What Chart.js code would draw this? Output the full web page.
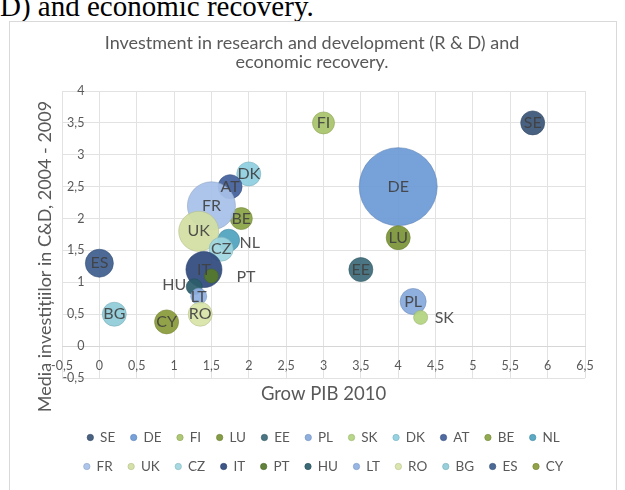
<!DOCTYPE html>
<html>
<head>
<meta charset="utf-8">
<script src="https://cdn.jsdelivr.net/npm/chart.js@4"></script>
<style>
html,body{margin:0;padding:0;background:#fff;width:625px;height:490px;overflow:hidden;}
#wrap{position:relative;width:625px;height:490px;}
#doc{position:absolute;left:0;top:-8px;font-family:"Liberation Serif","Times New Roman",serif;font-size:29px;line-height:28px;color:#000;white-space:nowrap;}
#frame{position:absolute;left:9px;top:21px;width:606px;height:480px;border:1px solid #d9d9d9;pointer-events:none;}
canvas{position:absolute;left:0;top:0;}
</style>
</head>
<body>
<div id="wrap">
<div id="doc">D) and economic recovery.</div>
<canvas id="c" width="625" height="490"></canvas>
<div id="frame"></div>
</div>
<script>
// ---- data ----
const countries = ['SE','DE','FI','LU','EE','PL','SK','DK','AT','BE','NL','FR','UK','CZ','IT','PT','HU','LT','RO','BG','ES','CY'];
const growPIB2010 = [5.8, 4.0, 3.0, 4.0, 3.5, 4.2, 4.3, 2.0, 1.75, 1.9, 1.73, 1.5, 1.33, 1.63, 1.4, 1.5, 1.27, 1.33, 1.35, 0.2, 0.0, 0.9];
const rdAverage0409 = [3.5, 2.5, 3.5, 1.7, 1.2, 0.7, 0.45, 2.7, 2.5, 2.0, 1.66, 2.2, 1.8, 1.52, 1.2, 1.1, 0.93, 0.78, 0.5, 0.5, 1.3, 0.38];
const bubbleSize = [12, 39, 11, 12, 12, 13, 7, 12, 12, 11, 11, 24, 20, 12, 18, 7, 8, 8, 12, 12, 14, 12];
const xTickLabels = ['-0,5','0','0,5','1','1,5','2','2,5','3','3,5','4','4,5','5','5,5','6','6,5'];
const yTickLabels = ['-0,5','0','0,5','1','1,5','2','2,5','3','3,5','4'];
const chartTitle = ['Investment in research and development (R & D) and', 'economic recovery.'];
const xAxisTitle = 'Grow PIB 2010';
const yAxisTitle = 'Media investițiilor in C&D, 2004 - 2009';

// ---- styles ----
const seriesColors = ['#3c5678','#6d9ad6','#a9c46a','#7b9437','#3d6b78','#86a9dd','#b3d480','#8fcfe0','#43609a','#8aa444','#4fa3bd',
                      '#a7c1e8','#d2dfa3','#9fd6df','#2f4a7e','#55782b','#2c5e6b','#90b0e2','#d8e3a8','#8fcbd8','#405f8f','#8a9b3a'];
const labelStyle = {
  NL: {align:'left', dx:11, dy:3},
  SK: {align:'left', dx:14, dy:0},
  PT: {align:'left', dx:25, dy:1},
  HU: {align:'right', dx:-8, dy:-2}
};
const textGray = '#595959';
const gridGray = '#e2e2e2';
const FONT = 'Lato';

function hexToRgba(hex, a) {
  const n = parseInt(hex.slice(1), 16);
  return 'rgba(' + ((n >> 16) & 255) + ',' + ((n >> 8) & 255) + ',' + (n & 255) + ',' + a + ')';
}
function darker(hex, f, a) {
  const n = parseInt(hex.slice(1), 16);
  const r = Math.round(((n >> 16) & 255) * f), g = Math.round(((n >> 8) & 255) * f), b = Math.round((n & 255) * f);
  return 'rgba(' + r + ',' + g + ',' + b + ',' + a + ')';
}

const datasets = countries.map((name, i) => ({
  label: name,
  data: [{x: growPIB2010[i], y: rdAverage0409[i], r: bubbleSize[i]}],
  backgroundColor: hexToRgba(seriesColors[i], 0.93),
  borderColor: darker(seriesColors[i], 0.85, 0.6),
  borderWidth: 1,
  xAxisID: 'x',
  yAxisID: 'y',
  order: countries.length - i
}));

const bubbleLabels = {
  id: 'bubbleLabels',
  afterDatasetsDraw(chart) {
    const ctx = chart.ctx;
    ctx.save();
    ctx.font = '16px ' + FONT;
    ctx.fillStyle = 'rgba(64,64,64,0.9)';
    ctx.textBaseline = 'middle';
    chart.data.datasets.forEach((ds, i) => {
      const el = chart.getDatasetMeta(i).data[0];
      if (!el) return;
      const st = labelStyle[ds.label];
      if (st) {
        ctx.textAlign = st.align;
        ctx.fillText(ds.label, el.x + st.dx, el.y + st.dy);
      } else {
        ctx.textAlign = 'center';
        ctx.fillText(ds.label, el.x, el.y);
      }
    });
    ctx.restore();
  }
};

const yTitlePlugin = {
  id: 'yTitlePlugin',
  afterDraw(chart) {
    const {ctx, chartArea} = chart;
    ctx.save();
    ctx.translate(chartArea.left - 17, (chartArea.top + chartArea.bottom) / 2 + 22);
    ctx.rotate(-Math.PI / 2);
    ctx.font = '18px ' + FONT;
    ctx.fillStyle = textGray;
    ctx.textAlign = 'center';
    ctx.textBaseline = 'middle';
    ctx.fillText(yAxisTitle, 0, 0);
    ctx.restore();
  }
};

new Chart(document.getElementById('c'), {
  type: 'bubble',
  data: {datasets},
  options: {
    responsive: false,
    animation: false,
    events: [],
    layout: {padding: {top: 0, left: 27, right: 28, bottom: 6.75}},
    plugins: {
      tooltip: {enabled: false},
      title: {
        display: true,
        text: chartTitle,
        color: textGray,
        font: {family: FONT, size: 18, weight: 'normal', lineHeight: 1.056},
        padding: {top: 33.5, bottom: 19.5}
      },
      legend: {
        position: 'bottom',
        fullSize: false,
        labels: {
          usePointStyle: true,
          pointStyle: 'circle',
          boxWidth: 6,
          boxHeight: 4.5,
          padding: 15.5,
          color: textGray,
          font: {family: FONT, size: 13.5},
          sort: (a, b) => a.datasetIndex - b.datasetIndex
        }
      }
    },
    scales: {
      x: {
        type: 'linear',
        position: {y: 0},
        min: -0.5, max: 6.5,
        grid: {color: gridGray, drawTicks: false},
        border: {color: '#d6d6d6'},
        ticks: {
          stepSize: 0.5, autoSkip: false, maxRotation: 0, padding: 12,
          color: textGray, font: {family: FONT, size: 12.5},
          callback: (v, i) => xTickLabels[i]
        }
      },
      y: {
        type: 'linear',
        position: {x: -0.2},
        min: -0.5, max: 4,
        grid: {color: gridGray, drawTicks: false},
        border: {display: false},
        ticks: {
          stepSize: 0.5, autoSkip: false,
          color: textGray, font: {family: FONT, size: 12.5},
          callback: (v, i) => yTickLabels[i]
        }
      },
      xTitle: {
        axis: 'x', type: 'linear', position: 'bottom', display: true,
        grid: {display: false}, border: {display: false}, ticks: {display: false},
        title: {display: true, text: xAxisTitle, color: textGray, font: {family: FONT, size: 18.5}, padding: {top: 0, bottom: 10.2}},
        afterFit: s => { s.height = 37.25; }
      },
      yTitle: {
        axis: 'y', type: 'linear', position: 'left', display: true,
        grid: {display: false}, border: {display: false}, ticks: {display: false},
        afterFit: s => { s.width = 35; }
      }
    }
  },
  plugins: [bubbleLabels, yTitlePlugin]
});
</script>
</body>
</html>
